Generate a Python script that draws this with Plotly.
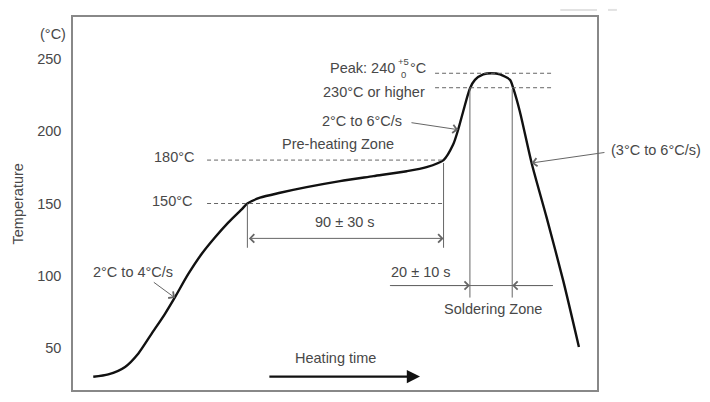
import plotly.graph_objects as go

# ---- data (time in s, temperature in °C) ----
time_s = [9.3, 16.2, 23.9, 30.0, 36.1, 42.2, 46.8, 52.9, 59.0, 65.1, 71.2, 77.4, 80.0,
          85.8, 95.0, 107.2, 122.5, 137.8, 153.1, 162.2, 170.0, 174.4, 176.7, 179.0,
          182.1, 184.4, 188.2, 192.1, 195.9, 200.5, 202.0, 205.0, 210.4, 217.3, 224.9, 232.1]
temp_c = [30.3, 31.9, 37.1, 46.4, 60.1, 73.8, 85.3, 101.3, 115.1, 126.5, 136.8, 146.0, 150.0,
          154.0, 157.4, 161.3, 165.5, 168.9, 172.3, 175.1, 180.0, 190.7, 201.0, 213.6,
          229.5, 235.4, 239.2, 240.0, 239.2, 235.4, 229.5, 213.6, 178.0, 140.2, 96.7, 50.9]

y_ticks = [50, 100, 150, 200, 250]
y_tick_labels = ["50", "100", "150", "200", "250"]

preheat_min, preheat_max = 150, 180
solder_min, peak_temp = 230, 240
preheat_start, preheat_end = 80.0, 170.0
solder_start, solder_end = 182.1, 201.5

TXT = "#484848"
LN = "#666666"
FONT = "Liberation Sans, Arial, sans-serif"
FS = 14.5

fig = go.Figure()
fig.add_trace(go.Scatter(x=time_s, y=temp_c, mode="lines",
                         line=dict(color="#111111", width=2.4, shape="spline", smoothing=0.7),
                         hoverinfo="skip", showlegend=False))

shapes = []
def hline(y, x0, x1, dash="4px,3px"):
    shapes.append(dict(type="line", xref="x", yref="y", x0=x0, x1=x1, y0=y, y1=y,
                       line=dict(color=LN, width=1, dash=dash)))
def vline(x, y0, y1):
    shapes.append(dict(type="line", xref="x", yref="y", x0=x, x1=x, y0=y0, y1=y1,
                       line=dict(color=LN, width=1)))

hline(preheat_min, 61.5, preheat_end)
hline(preheat_max, 61.5, preheat_end - 0.5)
hline(solder_min, 166.1, 220.2)
hline(peak_temp, 166.1, 219.6)
vline(preheat_start, preheat_min, 119.4)
vline(preheat_end, 178.0, 119.4)
vline(solder_start, solder_min, 85.0)
vline(solder_end, solder_min - 1, 85.0)
hline(93.3, 145.4, 220.2, dash="solid")
# faint scan artefacts at top
for x0, x1 in [(0.93, 1.0), (1.021, 1.038)]:
    shapes.append(dict(type="line", xref="paper", yref="paper", x0=x0, x1=x1,
                       y0=1.019, y1=1.019, line=dict(color="#e2e2e2", width=2)))

ann = []
def text(t, x, y, xanchor="center", size=FS, xref="x", yref="y", angle=0):
    ann.append(dict(text=t, x=x, y=y, xref=xref, yref=yref, xanchor=xanchor,
                    yanchor="middle", showarrow=False, borderpad=0, textangle=angle,
                    font=dict(family=FONT, size=size, color=TXT)))
def arrow(x, y, ax, ay, head=4, side="end", color=LN, width=1, size=1.6):
    ann.append(dict(text="", x=x, y=y, ax=ax, ay=ay, xref="x", yref="y", axref="x",
                    ayref="y", showarrow=True, arrowhead=head, startarrowhead=head,
                    arrowside=side, arrowcolor=color, arrowwidth=width,
                    arrowsize=size, startarrowsize=size, standoff=0, startstandoff=0))

text("(°C)", -0.039, 267.2, xref="paper")
text("Temperature", -0.105, 0.5, xref="paper", yref="paper", angle=-90)
text("180°C", 56.0, 182.0, xanchor="right")
text("150°C", 55.0, 151.7, xanchor="right")
text("Pre-heating Zone", 121.6, 190.9)
text("90 ± 30 s", 124.8, 137.5)
text("2°C to 4°C/s", 27.3, 102.9)
text("Peak: 240", 148.2, 243.8, xanchor="right")
text("+5", 151.6, 248.3, size=9.5)
text("0", 151.6, 238.8, size=9.5)
text("°C", 162.4, 243.8, xanchor="right")
text("230°C or higher", 161.9, 226.8, xanchor="right")
text("2°C to 6°C/s", 151.4, 206.7, xanchor="right")
text("(3°C to 6°C/s)", 1.0248, 186.8, xanchor="left", xref="paper")
text("20 ± 10 s", 145.4, 102.9, xanchor="left")
text("Soldering Zone", 192.8, 77.3)
text("Heating time", 120.6, 42.9)

arrow(preheat_end, 125.9, preheat_start, 125.9, side="end+start")
arrow(solder_start, 93.3, 145.4, 93.3)
arrow(solder_end, 93.3, 220.2, 93.3)
arrow(46.8, 84.8, 36.4, 96.3)
arrow(176.7, 201.0, 154.6, 206.0)
arrow(210.4, 178.0, 244.5, 185.4)
arrow(159.2, 30.4, 89.4, 30.4, head=2, color="#111111", width=2.4, size=1.1)

axis_common = dict(showline=True, linecolor="#888888", linewidth=1.5, mirror=True,
                   showgrid=False, zeroline=False)
# page body has an 8px margin, so the figure is sized and offset to compensate
fig.update_layout(
    width=702, height=394,
    margin=dict(l=65, r=113, t=7, b=12),
    paper_bgcolor="white", plot_bgcolor="white",
    xaxis=dict(range=[0, 240.4], showticklabels=False, ticks="", fixedrange=True, **axis_common),
    yaxis=dict(range=[21.13, 278.87], tickvals=y_ticks, ticktext=y_tick_labels, ticks="",
               ticklabelstandoff=7, tickfont=dict(family=FONT, size=FS, color=TXT),
               fixedrange=True, **axis_common),
    shapes=shapes, annotations=ann, showlegend=False,
)
fig.write_html("out.html")
